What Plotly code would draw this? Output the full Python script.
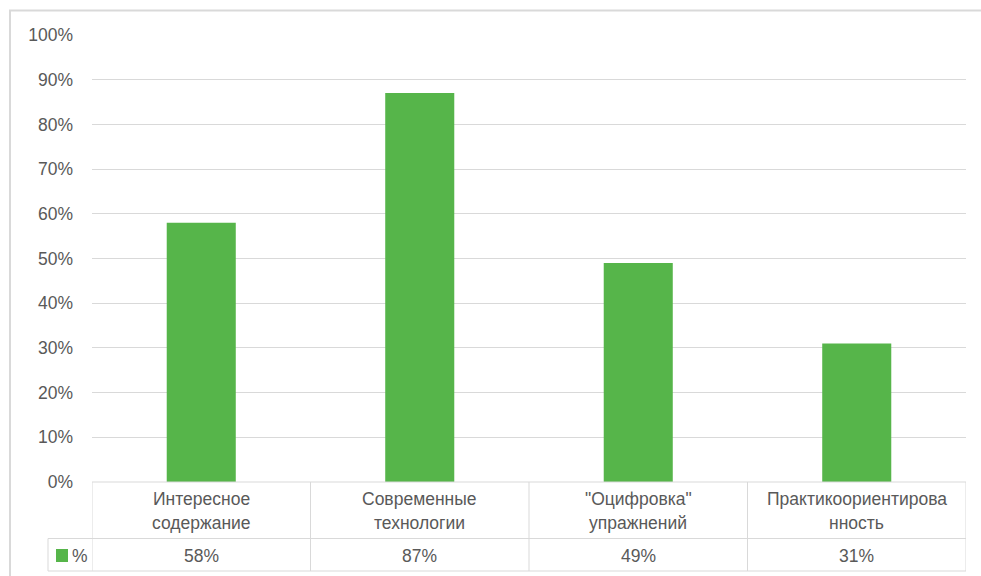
import plotly.graph_objects as go

categories = ["Интересное<br>содержание", "Современные<br>технологии",
              "\"Оцифровка\"<br>упражнений", "Практикоориентирова<br>нность"]
values = [58, 87, 49, 31]
series_name = "%"
y_ticks = [0, 10, 20, 30, 40, 50, 60, 70, 80, 90, 100]

W, H = 981, 576
GREEN = "#56b54a"
GRID = "#d9d9d9"
TXT = "#595959"
FONT = "Liberation Sans"
FS = 17.5

def px(x):
    return x / W

def py(y):
    return 1 - y / H

idx = list(range(len(categories)))

fig = go.Figure()
fig.add_trace(go.Bar(x=idx, y=values, name=series_name, marker_color=GREEN,
                     marker_line_width=0, showlegend=False, hoverinfo="y"))

fig.update_layout(
    width=W, height=H,
    margin=dict(l=0, r=0, t=0, b=0, pad=0, autoexpand=False),
    paper_bgcolor="white", plot_bgcolor="white",
    bargap=0.684,
    font=dict(family=FONT, color=TXT, size=FS),
    xaxis=dict(domain=[px(92), px(966)], range=[-0.5, len(categories) - 0.5],
               showticklabels=False, showgrid=False, zeroline=False, showline=False,
               automargin=False),
    yaxis=dict(domain=[py(482), py(35)], range=[0, 100], tickvals=y_ticks,
               ticktext=[f"{v}%" for v in y_ticks], showgrid=True, gridcolor=GRID,
               gridwidth=1, zeroline=False, showline=False, ticks="", automargin=False,
               ticklabelstandoff=18, tickfont=dict(family=FONT, size=FS, color=TXT)),
)

shapes = []
# outer chart border
shapes.append(dict(type="rect", xref="paper", yref="paper", x0=px(10), x1=px(990),
                   y0=py(590), y1=py(10.5), line=dict(color=GRID, width=2)))
# data table lines
row_top, row_mid, row_bot = 482, 538.5, 571
shapes.append(dict(type="line", xref="paper", yref="paper", x0=px(92), x1=px(966),
                   y0=py(row_top), y1=py(row_top), line=dict(color=GRID, width=1)))
for yy in (row_mid, row_bot):
    shapes.append(dict(type="line", xref="paper", yref="paper", x0=px(48), x1=px(966),
                       y0=py(yy), y1=py(yy), line=dict(color=GRID, width=1)))
for i in range(len(categories) + 1):
    shapes.append(dict(type="line", xref="x", yref="paper", x0=i - 0.5, x1=i - 0.5,
                       y0=py(row_top), y1=py(row_bot), line=dict(color=GRID, width=1)))
shapes.append(dict(type="line", xref="paper", yref="paper", x0=px(48), x1=px(48),
                   y0=py(row_mid), y1=py(row_bot), line=dict(color=GRID, width=1)))
# legend key
shapes.append(dict(type="rect", xref="paper", yref="paper", x0=px(56), x1=px(68),
                   y0=py(562), y1=py(549), fillcolor=GREEN, line=dict(width=0)))
fig.update_layout(shapes=shapes)

annotations = []
for i, (c, v) in enumerate(zip(categories, values)):
    lines = c.split("<br>")
    for j, ln in enumerate(lines):
        annotations.append(dict(x=i, y=py(499 + 24 * j), xref="x", yref="paper",
                                text=ln, showarrow=False, xanchor="center", yanchor="middle",
                                font=dict(family=FONT, size=FS, color=TXT)))
    annotations.append(dict(x=i, y=py(555.5), xref="x", yref="paper", text=f"{v}%",
                            showarrow=False, xanchor="center", yanchor="middle",
                            font=dict(family=FONT, size=FS, color=TXT)))
annotations.append(dict(x=px(70), y=py(555.5), xref="paper", yref="paper", text=series_name,
                        showarrow=False, xanchor="left", yanchor="middle",
                        font=dict(family=FONT, size=FS, color=TXT)))
fig.update_layout(annotations=annotations)

fig.write_html("out.html", config={"displayModeBar": False})
